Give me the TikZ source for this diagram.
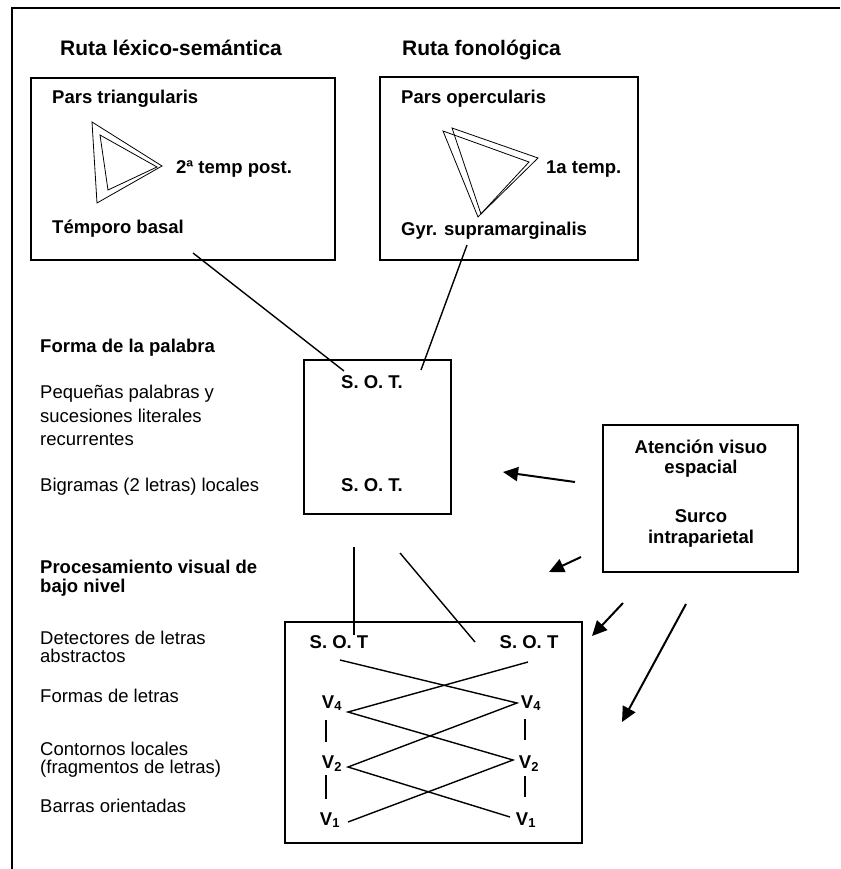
\documentclass[tikz,border=0pt]{standalone}
\usepackage{fontspec}
\setmainfont{Liberation Sans}
\usetikzlibrary{arrows.meta}
\begin{document}
\begin{tikzpicture}[x=1pt,y=-1pt,
  txt/.style={anchor=base west,inner sep=0pt,font=\fontsize{18.5}{20}\selectfont},
  btxt/.style={anchor=base west,inner sep=0pt,font=\fontsize{18.5}{20}\selectfont\bfseries},
  ttl/.style={anchor=base west,inner sep=0pt,font=\fontsize{21}{24}\selectfont\bfseries},
  ctr/.style={anchor=base,inner sep=0pt,font=\fontsize{18.5}{20}\selectfont\bfseries},
  vlab/.style={anchor=base,inner sep=0pt,font=\fontsize{18.5}{20}\selectfont\bfseries},
  boxst/.style={draw,line width=1.7pt,inner sep=0pt,outer sep=0pt},
  frame/.style={line width=2.2pt},
  conn/.style={line width=1.4pt},
  tri/.style={line width=0.8pt},
  arr/.style={line width=2pt,-{Triangle[length=15pt,width=14pt]}},
  bar/.style={line width=2pt}
]
\useasboundingbox (0,0) rectangle (840,869);
% outer frame (top and left sides only)
\coordinate (fTL) at (12,8);
\coordinate (fTR) at (840,8);
\coordinate (fBL) at (12,869);
\draw[frame] (fTR) -- (fTL) -- (fBL);

% titles
\node[ttl] (t1) at (60,56) {Ruta léxico-semántica};
\node[ttl] (t2) at (402,56) {Ruta fonológica};

% box 1
\node[boxst,minimum width=304pt,minimum height=182pt] (box1) at (183,169) {};
\node[btxt] (pt) at (52,104) {Pars triangularis};
\node[btxt] (tp) at (176,173) {2ª temp post.};
\node[btxt] (tb) at (52,233) {Témporo basal};
\draw[tri] (92,122) -- (162,166) -- (97,203) -- cycle;
\draw[tri] (100,135) -- (157,167) -- (108,190) -- cycle;

% box 2
\node[boxst,minimum width=258pt,minimum height=183pt] (box2) at (509,168.5) {};
\node[btxt] (po) at (401,104) {Pars opercularis};
\node[btxt] (te) at (546,173) {1a temp.};
\node[btxt] (gs) at (401,235) {Gyr. supramarginalis};
\draw[tri] (443,131) -- (529,162) -- (478,217) -- cycle;
\draw[tri] (452,128) -- (538,158) -- (481,214) -- cycle;

% left labels, upper
\node[btxt] (fp) at (40,352) {Forma de la palabra};
\node[txt] (pp1) at (40,398) {Pequeñas palabras y};
\node[txt] (pp2) at (40,422) {sucesiones literales};
\node[txt] (pp3) at (40,445) {recurrentes};
\node[txt] (bg) at (40,491) {Bigramas (2 letras) locales};

% left labels, lower
\node[btxt] (pv1) at (40,573) {Procesamiento visual de};
\node[btxt] (pv2) at (40,592) {bajo nivel};
\node[txt] (dl1) at (40,644) {Detectores de letras};
\node[txt] (dl2) at (40,662) {abstractos};
\node[txt] (fl) at (40,702) {Formas de letras};
\node[txt] (cl1) at (40,755) {Contornos locales};
\node[txt] (cl2) at (40,773) {(fragmentos de letras)};
\node[txt] (bo) at (40,812) {Barras orientadas};

% middle box
\node[boxst,minimum width=147pt,minimum height=154pt] (mid) at (377.5,437) {};
\node[ctr] (sot1) at (372,388) {S. O. T.};
\node[ctr] (sot2) at (372,491) {S. O. T.};

% connectors from upper boxes
\coordinate (c1a) at (193,253);
\coordinate (c1b) at (344,371);
\coordinate (c2a) at (467,245);
\coordinate (c2b) at (421,370);
\draw[conn] (c1a) -- (c1b);
\draw[conn] (c2a) -- (c2b);

% attention box
\node[boxst,minimum width=195pt,minimum height=147pt] (att) at (700.5,498.5) {};
\node[ctr] (at1) at (701,453) {Atención visuo};
\node[ctr] (at2) at (701,473) {espacial};
\node[ctr] (at3) at (701,522) {Surco};
\node[ctr] (at4) at (701,543) {intraparietal};

% arrows
\coordinate (a1s) at (575,482); \coordinate (a1e) at (503,472);
\coordinate (a2s) at (581,557); \coordinate (a2e) at (549,572);
\coordinate (a3s) at (623,603); \coordinate (a3e) at (592,636);
\coordinate (a4s) at (686,604); \coordinate (a4e) at (622,722);
\draw[arr] (a1s) -- (a1e);
\draw[arr] (a2s) -- (a2e);
\draw[arr] (a3s) -- (a3e);
\draw[arr] (a4s) -- (a4e);

% lines between middle and bottom box
\coordinate (m1a) at (354,547); \coordinate (m1b) at (354,635);
\coordinate (m2a) at (400,553); \coordinate (m2b) at (475,642);
\draw[conn] (m1a) -- (m1b);
\draw[conn] (m2a) -- (m2b);

% bottom box
\node[boxst,minimum width=297pt,minimum height=221pt] (low) at (433.5,732.5) {};
\node[ctr] (sotl) at (339,648) {S. O. T};
\node[ctr] (sotr) at (529,648) {S. O. T};
\node[vlab] (v4l) at (332,708) {V\textsubscript{4}};
\node[vlab] (v4r) at (531,708) {V\textsubscript{4}};
\node[vlab] (v2l) at (332,768) {V\textsubscript{2}};
\node[vlab] (v2r) at (529,768) {V\textsubscript{2}};
\node[vlab] (v1l) at (330,825) {V\textsubscript{1}};
\node[vlab] (v1r) at (526,825) {V\textsubscript{1}};

\coordinate (xSL) at (340,660);
\coordinate (xSR) at (528,662);
\coordinate (x4L) at (348,712);
\coordinate (x4R) at (517,703);
\coordinate (x2L) at (348,767);
\coordinate (x2R) at (513,760);
\coordinate (x1L) at (348,822);
\coordinate (x1R) at (510,817);
\draw[conn] (xSL) -- (x4R) -- (x2L) -- (x1R);
\draw[conn] (xSR) -- (x4L) -- (x2R) -- (x1L);

% short bars
\coordinate (b1a) at (326,720); \coordinate (b1b) at (326,742);
\coordinate (b2a) at (326,775); \coordinate (b2b) at (326,799);
\coordinate (b3a) at (525,719); \coordinate (b3b) at (525,740);
\coordinate (b4a) at (525,776); \coordinate (b4b) at (525,797);
\draw[bar] (b1a) -- (b1b);
\draw[bar] (b2a) -- (b2b);
\draw[bar] (b3a) -- (b3b);
\draw[bar] (b4a) -- (b4b);
\end{tikzpicture}
\end{document}
